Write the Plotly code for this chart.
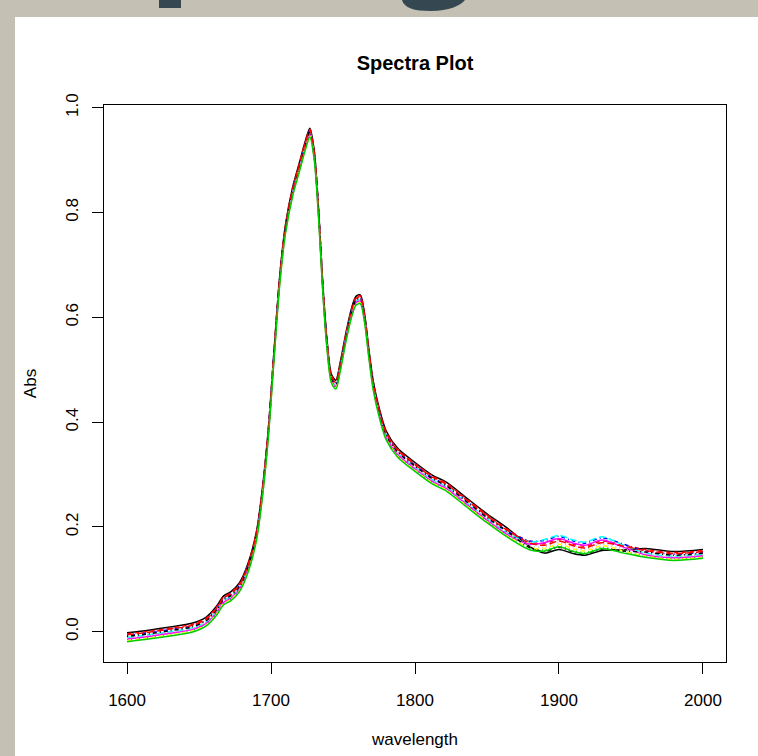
import plotly.graph_objects as go

# ---------------- data ----------------
wavelength = [1600, 1615, 1630, 1645, 1655, 1662, 1667, 1672, 1678, 1684,
              1690, 1694, 1698, 1702, 1706, 1710, 1715, 1720, 1724, 1727,
              1730, 1733, 1736, 1739, 1742, 1745, 1748, 1752, 1756, 1759,
              1762, 1765, 1768, 1771, 1775, 1780, 1788, 1800, 1812, 1822,
              1835, 1850, 1865, 1880, 1890, 1900, 1910, 1918, 1930, 1945,
              1960, 1980, 2000]

abs_s01 = [-0.002, 0.003, 0.009, 0.016, 0.028, 0.048, 0.068, 0.076, 0.093, 0.130,
           0.193, 0.273, 0.383, 0.533, 0.678, 0.776, 0.848, 0.898, 0.938, 0.961,
           0.918, 0.808, 0.663, 0.553, 0.491, 0.480, 0.513, 0.570, 0.618, 0.640,
           0.643, 0.606, 0.538, 0.478, 0.428, 0.383, 0.350, 0.323, 0.299, 0.285,
           0.257, 0.225, 0.196, 0.162, 0.150, 0.157, 0.149, 0.146, 0.155, 0.156,
           0.159, 0.153, 0.157]
abs_s02 = [-0.004, 0.001, 0.007, 0.014, 0.026, 0.046, 0.066, 0.074, 0.091, 0.128,
           0.191, 0.271, 0.381, 0.531, 0.676, 0.774, 0.846, 0.896, 0.936, 0.959,
           0.916, 0.806, 0.661, 0.551, 0.489, 0.478, 0.511, 0.568, 0.616, 0.638,
           0.641, 0.604, 0.536, 0.476, 0.426, 0.381, 0.348, 0.321, 0.297, 0.283,
           0.255, 0.223, 0.194, 0.171, 0.168, 0.176, 0.167, 0.163, 0.173, 0.165,
           0.157, 0.151, 0.155]
abs_s03 = [-0.016, -0.011, -0.005, 0.002, 0.014, 0.034, 0.054, 0.062, 0.079, 0.116,
           0.179, 0.259, 0.369, 0.519, 0.664, 0.762, 0.834, 0.884, 0.924, 0.947,
           0.904, 0.794, 0.649, 0.539, 0.477, 0.466, 0.499, 0.556, 0.604, 0.626,
           0.629, 0.592, 0.524, 0.464, 0.414, 0.369, 0.336, 0.309, 0.285, 0.271,
           0.243, 0.211, 0.182, 0.159, 0.156, 0.164, 0.155, 0.151, 0.161, 0.153,
           0.145, 0.139, 0.143]
abs_s04 = [-0.007, -0.002, 0.004, 0.011, 0.023, 0.043, 0.063, 0.071, 0.088, 0.125,
           0.188, 0.268, 0.378, 0.528, 0.673, 0.771, 0.843, 0.893, 0.933, 0.956,
           0.913, 0.803, 0.658, 0.548, 0.486, 0.475, 0.508, 0.565, 0.613, 0.635,
           0.638, 0.601, 0.533, 0.473, 0.423, 0.378, 0.345, 0.318, 0.294, 0.280,
           0.252, 0.220, 0.191, 0.173, 0.174, 0.182, 0.173, 0.169, 0.179, 0.167,
           0.154, 0.148, 0.152]
abs_s05 = [-0.011, -0.006, 0.000, 0.007, 0.019, 0.039, 0.059, 0.067, 0.084, 0.121,
           0.184, 0.264, 0.374, 0.524, 0.669, 0.767, 0.839, 0.889, 0.929, 0.952,
           0.909, 0.799, 0.654, 0.544, 0.482, 0.471, 0.504, 0.561, 0.609, 0.631,
           0.634, 0.597, 0.529, 0.469, 0.419, 0.374, 0.341, 0.314, 0.290, 0.276,
           0.248, 0.216, 0.187, 0.171, 0.176, 0.184, 0.175, 0.171, 0.181, 0.165,
           0.150, 0.144, 0.148]
abs_s06 = [-0.014, -0.009, -0.003, 0.004, 0.016, 0.036, 0.056, 0.064, 0.081, 0.118,
           0.181, 0.261, 0.371, 0.521, 0.666, 0.764, 0.836, 0.886, 0.926, 0.949,
           0.906, 0.796, 0.651, 0.541, 0.479, 0.468, 0.501, 0.558, 0.606, 0.628,
           0.631, 0.594, 0.526, 0.466, 0.416, 0.371, 0.338, 0.311, 0.287, 0.273,
           0.245, 0.213, 0.184, 0.167, 0.170, 0.178, 0.169, 0.165, 0.175, 0.161,
           0.147, 0.141, 0.145]
abs_s07 = [-0.017, -0.012, -0.006, 0.001, 0.013, 0.033, 0.053, 0.061, 0.078, 0.115,
           0.178, 0.258, 0.368, 0.518, 0.663, 0.761, 0.833, 0.883, 0.923, 0.946,
           0.903, 0.793, 0.648, 0.538, 0.476, 0.465, 0.498, 0.555, 0.603, 0.625,
           0.628, 0.591, 0.523, 0.463, 0.413, 0.368, 0.335, 0.308, 0.284, 0.270,
           0.242, 0.210, 0.181, 0.160, 0.159, 0.167, 0.158, 0.154, 0.164, 0.154,
           0.144, 0.138, 0.142]
abs_s08 = [-0.012, -0.007, -0.001, 0.006, 0.018, 0.038, 0.058, 0.066, 0.083, 0.120,
           0.183, 0.263, 0.373, 0.523, 0.668, 0.766, 0.838, 0.888, 0.928, 0.951,
           0.908, 0.798, 0.653, 0.543, 0.481, 0.470, 0.503, 0.560, 0.608, 0.630,
           0.633, 0.596, 0.528, 0.468, 0.418, 0.373, 0.340, 0.313, 0.289, 0.275,
           0.247, 0.215, 0.186, 0.164, 0.162, 0.170, 0.161, 0.157, 0.167, 0.158,
           0.149, 0.143, 0.147]
abs_s09 = [-0.009, -0.004, 0.002, 0.009, 0.021, 0.041, 0.061, 0.069, 0.086, 0.123,
           0.186, 0.266, 0.376, 0.526, 0.671, 0.769, 0.841, 0.891, 0.931, 0.954,
           0.911, 0.801, 0.656, 0.546, 0.484, 0.473, 0.506, 0.563, 0.611, 0.633,
           0.636, 0.599, 0.531, 0.471, 0.421, 0.376, 0.343, 0.316, 0.292, 0.278,
           0.250, 0.218, 0.189, 0.160, 0.153, 0.161, 0.152, 0.148, 0.158, 0.154,
           0.152, 0.146, 0.150]
abs_s10 = [-0.006, -0.001, 0.005, 0.012, 0.024, 0.044, 0.064, 0.072, 0.089, 0.126,
           0.189, 0.269, 0.379, 0.529, 0.674, 0.772, 0.844, 0.894, 0.934, 0.957,
           0.914, 0.804, 0.659, 0.549, 0.487, 0.476, 0.509, 0.566, 0.614, 0.636,
           0.639, 0.602, 0.534, 0.474, 0.424, 0.379, 0.346, 0.319, 0.295, 0.281,
           0.253, 0.221, 0.192, 0.169, 0.165, 0.173, 0.164, 0.160, 0.170, 0.163,
           0.155, 0.149, 0.153]
abs_s11 = [-0.019, -0.014, -0.008, -0.001, 0.011, 0.031, 0.051, 0.059, 0.076, 0.113,
           0.176, 0.256, 0.366, 0.516, 0.661, 0.759, 0.831, 0.881, 0.921, 0.944,
           0.901, 0.791, 0.646, 0.536, 0.474, 0.463, 0.496, 0.553, 0.601, 0.623,
           0.626, 0.589, 0.521, 0.461, 0.411, 0.366, 0.333, 0.306, 0.282, 0.268,
           0.240, 0.208, 0.179, 0.156, 0.154, 0.162, 0.153, 0.149, 0.159, 0.150,
           0.142, 0.136, 0.140]

spectra = [abs_s01, abs_s02, abs_s03, abs_s04, abs_s05, abs_s06,
           abs_s07, abs_s08, abs_s09, abs_s10, abs_s11]

x_ticks = [1600, 1700, 1800, 1900, 2000]
y_ticks = [0.0, 0.2, 0.4, 0.6, 0.8, 1.0]
y_tick_labels = ["0.0", "0.2", "0.4", "0.6", "0.8", "1.0"]

# ---------------- style ----------------
palette = ["#000000", "#FF0000", "#00CD00", "#0000FF",
           "#00FFFF", "#FF00FF", "#FFFF00", "#BEBEBE"]
# R line types 1:5 (solid, dashed, dotted, dotdash, longdash)
dashes = ["solid", "4px,4px", "1px,3px", "1px,3px,4px,3px", "7px,3px"]
FONT = "Liberation Sans, Arial, Helvetica, sans-serif"

W, H = 758, 756
ML, MR, MT, MB = 104, 32, 105, 94
PW, PH = W - ML - MR, H - MT - MB


def px(x):
    return (x - ML) / PW


def py(y):
    return (H - MB - y) / PH


fig = go.Figure()
for i, s in enumerate(spectra):
    fig.add_trace(go.Scatter(
        x=wavelength, y=s, mode="lines",
        line=dict(color=palette[i % len(palette)], width=1.5,
                  dash=dashes[i % len(dashes)], shape="spline", smoothing=0.8),
        showlegend=False, hoverinfo="skip"))

beige = "#C4C0B4"
slate = "#354852"
shapes = [
    dict(type="rect", xref="paper", yref="paper", layer="below",
         x0=px(0), x1=px(15), y0=py(H), y1=py(0),
         fillcolor=beige, line=dict(width=0)),
    dict(type="rect", xref="paper", yref="paper", layer="below",
         x0=px(0), x1=px(W), y0=py(17), y1=py(0),
         fillcolor=beige, line=dict(width=0)),
    dict(type="rect", xref="paper", yref="paper", layer="below",
         x0=px(159), x1=px(181), y0=py(8), y1=py(0),
         fillcolor=slate, line=dict(width=0)),
]
path = "M {:.5f},{:.5f} C {:.5f},{:.5f} {:.5f},{:.5f} {:.5f},{:.5f} C {:.5f},{:.5f} {:.5f},{:.5f} {:.5f},{:.5f} Z".format(
    px(402), py(0), px(404), py(8), px(414), py(11), px(431), py(11),
    px(449), py(11), px(460), py(6), px(465), py(0))
shapes.append(dict(type="path", xref="paper", yref="paper", layer="below",
                   path=path, fillcolor=slate, line=dict(width=0)))

fig.update_layout(
    width=W, height=H,
    margin=dict(l=ML, r=MR, t=MT, b=MB, pad=0),
    paper_bgcolor="white", plot_bgcolor="white",
    font=dict(family=FONT, size=17, color="black"),
    title=dict(text="<b>Spectra Plot</b>", x=0.5, xref="paper", xanchor="center",
               y=1 - 63 / H, yref="container", yanchor="middle",
               font=dict(family=FONT, size=20, color="black")),
    shapes=shapes,
    xaxis=dict(range=[1584, 2016], tickvals=x_ticks, ticks="outside",
               ticklen=11, tickwidth=1, tickcolor="black",
               ticklabelstandoff=12,
               showline=True, linecolor="black", linewidth=1, mirror=True,
               showgrid=False, zeroline=False,
               tickfont=dict(family=FONT, size=17, color="black"),
               title=dict(text="wavelength", standoff=23,
                          font=dict(family=FONT, size=17, color="black"))),
    yaxis=dict(range=[-0.0578, 1.0052], tickvals=y_ticks, ticktext=y_tick_labels,
               tickangle=-90, ticks="outside",
               ticklen=11, tickwidth=1, tickcolor="black",
               ticklabelstandoff=7,
               showline=True, linecolor="black", linewidth=1, mirror=True,
               showgrid=False, zeroline=False,
               tickfont=dict(family=FONT, size=17, color="black"),
               title=dict(text="Abs", standoff=22,
                          font=dict(family=FONT, size=17, color="black"))),
)

fig.write_html("out.html",
               config={"displayModeBar": False},
               post_script="document.body.style.margin='0';document.body.style.overflow='hidden';")
